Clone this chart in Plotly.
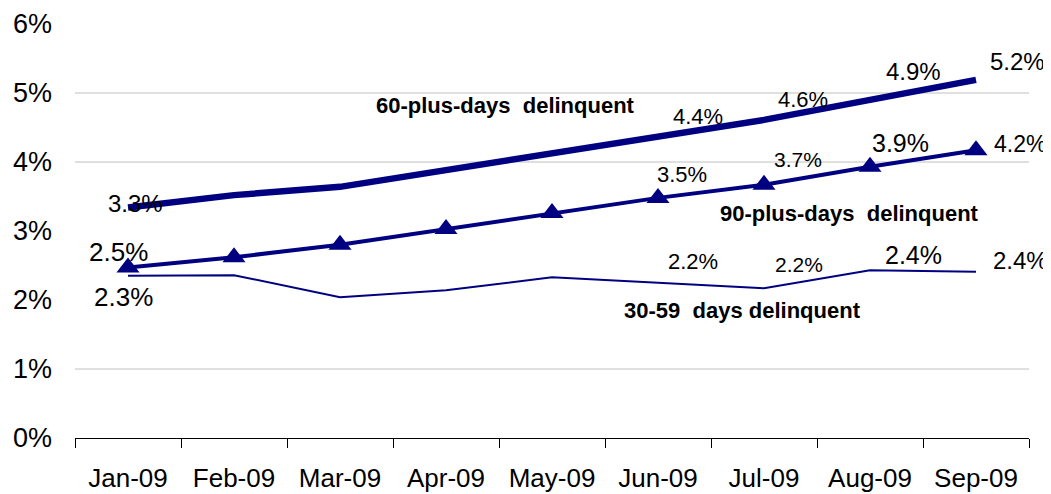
import plotly.graph_objects as go

# ---- data ----
months = ["Jan-09", "Feb-09", "Mar-09", "Apr-09", "May-09",
          "Jun-09", "Jul-09", "Aug-09", "Sep-09"]
d60 = [3.34, 3.52, 3.64, 3.88, 4.14, 4.36, 4.61, 4.90, 5.19]
d90 = [2.47, 2.62, 2.80, 3.03, 3.26, 3.48, 3.67, 3.93, 4.17]
d30 = [2.35, 2.36, 2.04, 2.14, 2.33, 2.25, 2.17, 2.43, 2.41]
lab60 = ["3.3%", None, None, None, None, "4.4%", "4.6%", "4.9%", "5.2%"]
lab90 = ["2.5%", None, None, None, None, "3.5%", "3.7%", "3.9%", "4.2%"]
lab30 = ["2.3%", None, None, None, None, "2.2%", "2.2%", "2.4%", "2.4%"]
y_ticks = [0, 1, 2, 3, 4, 5, 6]
y_tick_text = ["0%", "1%", "2%", "3%", "4%", "5%", "6%"]
grid_levels = [1, 4, 5]

# ---- styles ----
NAVY = "#000080"
FONT = "Liberation Sans, Arial, sans-serif"
# per-label (xshift, yshift, font size)
sty60 = [(7, 4, 24), None, None, None, None, (40, 21, 22), (39, 20, 22), (43, 28, 24), (41, 18, 24)]
sty90 = [(-10, 16, 26), None, None, None, None, (24, 23, 22), (34, 25, 21), (30, 24, 25), (44, 6, 23)]
sty30 = [(-5, -21, 26), None, None, None, None, (35, 21, 22), (35, 24, 21), (43, 15, 25), (44, 11, 24)]

fig = go.Figure()
fig.add_trace(go.Scatter(x=months, y=d30, mode="lines",
                         line=dict(color=NAVY, width=2), name="30-59"))
fig.add_trace(go.Scatter(x=months, y=d90, mode="lines+markers",
                         line=dict(color=NAVY, width=4),
                         marker=dict(symbol="triangle-up", size=20, color=NAVY),
                         name="90-plus"))
fig.add_trace(go.Scatter(x=months, y=d60, mode="lines",
                         line=dict(color=NAVY, width=6.5), name="60-plus"))

annotations = []
for vals, labs, stys in [(d60, lab60, sty60), (d90, lab90, sty90), (d30, lab30, sty30)]:
    for i, (v, t, s) in enumerate(zip(vals, labs, stys)):
        if t is None:
            continue
        annotations.append(dict(x=months[i], y=v, xref="x", yref="y", text=t,
                                showarrow=False, xshift=s[0], yshift=s[1],
                                font=dict(family=FONT, size=s[2], color="black")))

series_names = [
    ("60-plus-days\u00a0 delinquent", 0.451, 0.804),
    ("90-plus-days\u00a0 delinquent", 0.812, 0.543),
    ("30-59\u00a0 days delinquent", 0.700, 0.309),
]
for t, px, py in series_names:
    annotations.append(dict(x=px, y=py, xref="paper", yref="paper", text="<b>" + t + "</b>",
                            showarrow=False, xanchor="center", yanchor="middle",
                            font=dict(family=FONT, size=22, color="black")))

shapes = [dict(type="line", xref="paper", x0=0, x1=1, yref="y", y0=g, y1=g,
               line=dict(color="#c0c0c0", width=1), layer="below") for g in grid_levels]

fig.update_layout(
    width=1043, height=486,
    margin=dict(l=67, r=22, t=16, b=56),
    paper_bgcolor="white", plot_bgcolor="white",
    showlegend=False,
    font=dict(family=FONT, color="black"),
    annotations=annotations,
    shapes=shapes,
    xaxis=dict(type="category", range=[-0.5, 8.5], tickson="boundaries",
               ticks="outside", ticklen=9, tickcolor="black", tickwidth=1,
               showline=True, linecolor="black", linewidth=1, showgrid=False,
               tickfont=dict(family=FONT, size=26, color="black"),
               ticklabelstandoff=17, zeroline=False, automargin=False),
    yaxis=dict(range=[0, 6], tickvals=y_ticks, ticktext=y_tick_text,
               showgrid=False, zeroline=False, showline=False, ticks="",
               tickfont=dict(family=FONT, size=27, color="black"),
               ticklabelstandoff=22, automargin=False),
)

fig.write_html("out.html")
